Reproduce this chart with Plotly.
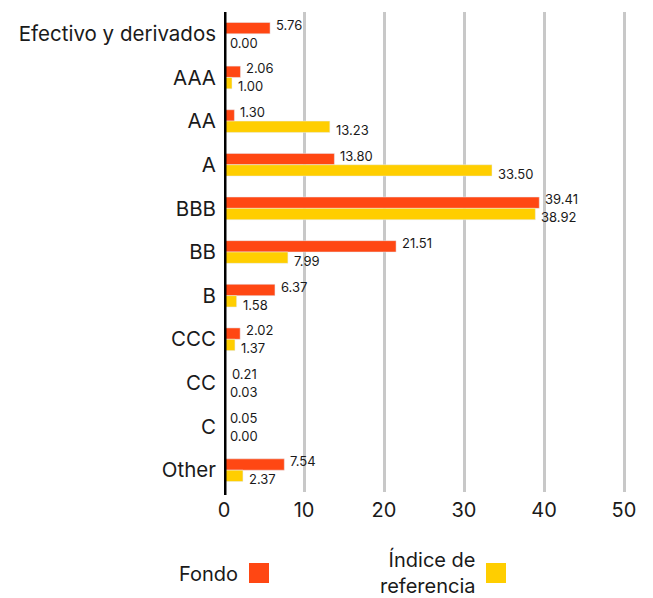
import plotly.graph_objects as go

categories = ["Efectivo y derivados", "AAA", "AA", "A", "BBB", "BB", "B", "CCC", "CC", "C", "Other"]
fondo = [5.76, 2.06, 1.30, 13.80, 39.41, 21.51, 6.37, 2.02, 0.21, 0.05, 7.54]
indice = [0.00, 1.00, 13.23, 33.50, 38.92, 7.99, 1.58, 1.37, 0.03, 0.00, 2.37]
series_names = ["Fondo", "Índice de<br>referencia"]
x_ticks = [0, 10, 20, 30, 40, 50]

ORANGE = "#FF4713"
YELLOW = "#FFCE00"
FONT = "Inter"
TXT = "#1a1a1a"

fig = go.Figure()
fig.add_trace(go.Bar(y=categories, x=fondo, orientation="h", marker_color=ORANGE,
                     name="Fondo", showlegend=False))
fig.add_trace(go.Bar(y=categories, x=indice, orientation="h", marker_color=YELLOW,
                     name="Índice de referencia", showlegend=False))

annotations = []
for c, v in zip(categories, fondo):
    annotations.append(dict(x=v, y=c, xref="x", yref="y", text=f"{v:.2f}", showarrow=False,
                            xanchor="left", yanchor="middle", xshift=4, yshift=9,
                            font=dict(family=FONT, size=13, color=TXT)))
for c, v in zip(categories, indice):
    annotations.append(dict(x=v, y=c, xref="x", yref="y", text=f"{v:.2f}", showarrow=False,
                            xanchor="left", yanchor="middle", xshift=4, yshift=-9,
                            font=dict(family=FONT, size=13, color=TXT)))

# custom legend (text left of swatch)
annotations.append(dict(x=240, y=574, xref="paper", yref="paper", text=series_names[0],
                        showarrow=False, xanchor="right", yanchor="middle",
                        font=dict(family=FONT, size=20, color=TXT)))
annotations.append(dict(x=478, y=572, xref="paper", yref="paper", text=series_names[1],
                        showarrow=False, xanchor="right", yanchor="middle", align="right",
                        font=dict(family=FONT, size=20, color=TXT)))

W, H = 653, 598
ML, MR, MT, MB = 224, 21, 12, 106
pw, ph = W - ML - MR, H - MT - MB


def px2paper(x, y):
    return (x - ML) / pw, (H - MB - y) / ph


for a in annotations[-2:]:
    a["x"], a["y"] = px2paper(a["x"], a["y"])

shapes = [
    dict(type="line", xref="x", yref="paper", x0=0, x1=0, y0=-0.006, y1=1.0,
         line=dict(color="black", width=5)),
]
for (x0, x1, col) in [(249, 269, ORANGE), (486, 506, YELLOW)]:
    px0, py0 = px2paper(x0, 563)
    px1, py1 = px2paper(x1, 583)
    shapes.append(dict(type="rect", xref="paper", yref="paper", x0=px0, x1=px1, y0=py1, y1=py0,
                       fillcolor=col, line=dict(width=0)))

fig.update_layout(
    width=W, height=H,
    margin=dict(l=ML, r=MR, t=MT, b=MB),
    paper_bgcolor="white", plot_bgcolor="white",
    barmode="group", bargap=0.48, bargroupgap=0,
    font=dict(family=FONT, color=TXT),
    annotations=annotations, shapes=shapes,
    xaxis=dict(range=[0, 51], tickvals=x_ticks, showgrid=True, gridcolor="#c8c8c8",
               gridwidth=2.5, zeroline=False, showline=False,
               tickfont=dict(family=FONT, size=20, color=TXT), ticks="", ticklabelstandoff=4),
    yaxis=dict(autorange="reversed", showgrid=False, zeroline=False, showline=False,
               tickfont=dict(family=FONT, size=20.5, color=TXT), ticks="", ticklabelstandoff=7),
)

fig.write_html("out.html", config={"displayModeBar": False},
               post_script="document.body.style.margin='0';document.body.style.overflow='hidden';")
